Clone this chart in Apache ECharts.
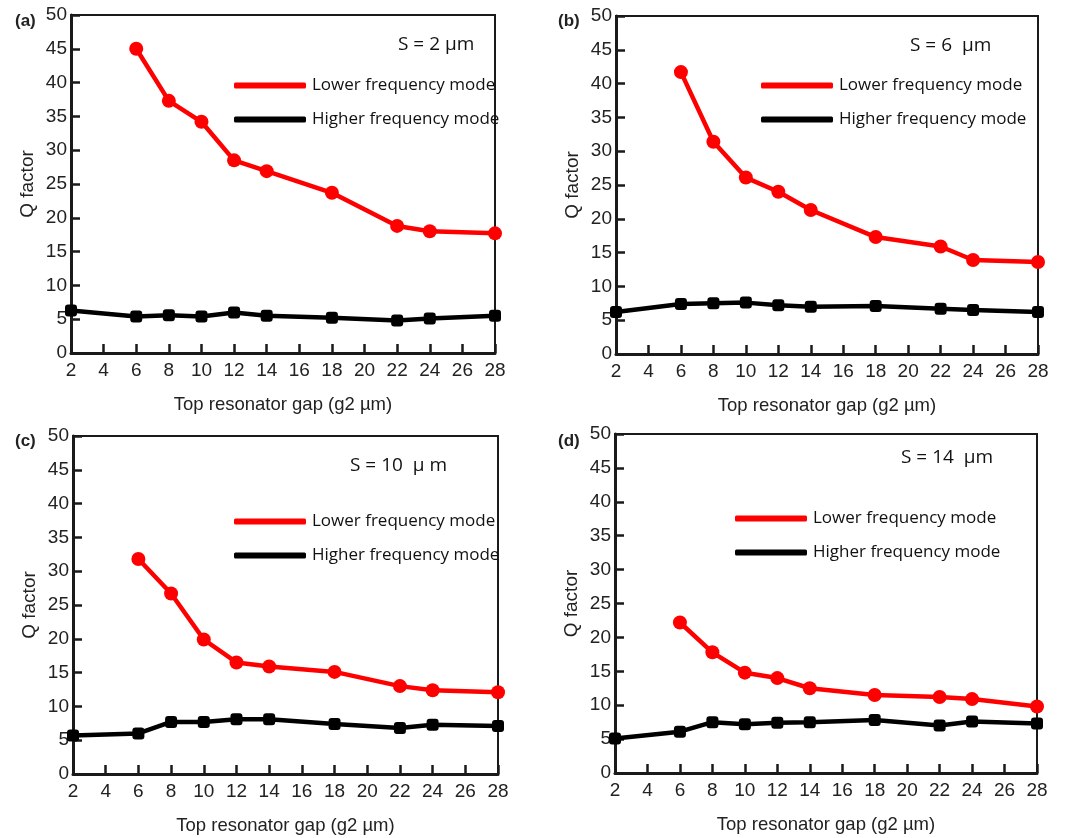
<!DOCTYPE html>
<html>
<head>
<meta charset="utf-8">
<script src="https://cdn.jsdelivr.net/npm/echarts@6/dist/echarts.min.js"></script>
<style>
html,body{margin:0;padding:0;background:#fff;}
#chart{width:1083px;height:838px;}
</style>
</head>
<body>
<div id="chart"></div>
<script>
// ---- data ----
const gapHigher = [2, 6, 8, 10, 12, 14, 18, 22, 24, 28];
const gapLower = [6, 8, 10, 12, 14, 18, 22, 24, 28];
const xTicks = [2, 4, 6, 8, 10, 12, 14, 16, 18, 20, 22, 24, 26, 28];
const yTicks = [0, 5, 10, 15, 20, 25, 30, 35, 40, 45, 50];

const panelLabels = ['(a)', '(b)', '(c)', '(d)'];
const spacingLabels = ['S = 2 µm', 'S = 6  µm', 'S = 10  µ m', 'S = 14  µm'];
const seriesNames = ['Lower frequency mode', 'Higher frequency mode'];

const lowerA = [45.0, 37.3, 34.2, 28.5, 26.9, 23.7, 18.8, 18.0, 17.7];
const higherA = [6.3, 5.4, 5.6, 5.4, 6.0, 5.5, 5.2, 4.8, 5.1, 5.5];
const lowerB = [41.7, 31.4, 26.1, 24.0, 21.3, 17.3, 15.9, 13.9, 13.6];
const higherB = [6.2, 7.4, 7.5, 7.6, 7.2, 7.0, 7.1, 6.7, 6.5, 6.2];
const lowerC = [31.8, 26.7, 19.9, 16.5, 15.9, 15.1, 13.0, 12.4, 12.1];
const higherC = [5.7, 6.0, 7.7, 7.7, 8.1, 8.1, 7.4, 6.8, 7.3, 7.1];
const lowerD = [22.2, 17.8, 14.8, 14.0, 12.5, 11.5, 11.2, 10.9, 9.8];
const higherD = [5.1, 6.1, 7.5, 7.2, 7.4, 7.5, 7.8, 7.0, 7.6, 7.3];

const lowerAll = [lowerA, lowerB, lowerC, lowerD];
const higherAll = [higherA, higherB, higherC, higherD];

// ---- layout ----
const grids = [
  {left: 71, top: 15, width: 424, height: 338},
  {left: 616, top: 16, width: 422, height: 338},
  {left: 73, top: 436, width: 425, height: 338},
  {left: 615, top: 434, width: 422, height: 339}
];
const panelLabelPos = [[10, 8], [553, 8], [10, 428], [553, 428]];
const sLabelPos = [[393, 30], [905, 31], [345, 451], [896, 443]];
const legendPos = [[229, 70], [756, 70], [229, 506], [730, 503]];

const RED = '#ff0000';
const BLACK = '#000000';
const tickFont = 'Liberation Sans';

const option = {
  backgroundColor: '#fff',
  animation: false,
  title: [],
  legend: [],
  grid: [],
  xAxis: [],
  yAxis: [],
  series: []
};

for (let i = 0; i < 4; i++) {
  const g = grids[i];
  option.grid.push({
    left: g.left, top: g.top, width: g.width, height: g.height,
    show: true, borderColor: '#1a1a1a', borderWidth: 2, backgroundColor: 'transparent'
  });
  option.xAxis.push({
    type: 'value', gridIndex: i, min: xTicks[0], max: xTicks[xTicks.length - 1], interval: 2,
    name: 'Top resonator gap (g2 µm)', nameLocation: 'middle', nameGap: 42,
    nameTextStyle: {fontFamily: tickFont, fontSize: 18.5, color: '#222'},
    axisLine: {show: true, onZero: false, lineStyle: {color: '#1a1a1a', width: 3}},
    axisTick: {show: true, inside: true, length: 9, lineStyle: {color: '#1a1a1a', width: 2.5}},
    axisLabel: {fontFamily: tickFont, fontSize: 19, color: '#222', margin: 8,
      formatter: v => (xTicks.indexOf(v) >= 0 ? String(v) : '')},
    splitLine: {show: false}
  });
  option.yAxis.push({
    type: 'value', gridIndex: i, min: yTicks[0], max: yTicks[yTicks.length - 1], interval: 5,
    name: 'Q factor', nameLocation: 'middle', nameGap: 34, nameRotate: 90,
    nameTextStyle: {fontFamily: tickFont, fontSize: 19, color: '#222'},
    axisLine: {show: true, onZero: false, lineStyle: {color: '#1a1a1a', width: 3}},
    axisTick: {show: true, inside: true, length: 9, lineStyle: {color: '#1a1a1a', width: 2.5}},
    axisLabel: {fontFamily: tickFont, fontSize: 19, color: '#222', margin: 4,
      formatter: v => (yTicks.indexOf(v) >= 0 ? String(v) : '')},
    splitLine: {show: false}
  });
  option.series.push({
    name: seriesNames[0], type: 'line', xAxisIndex: i, yAxisIndex: i,
    data: gapLower.map((x, k) => [x, lowerAll[i][k]]),
    symbol: 'circle', symbolSize: 14,
    lineStyle: {color: RED, width: 4.5}, itemStyle: {color: RED},
    z: 3
  });
  option.series.push({
    name: seriesNames[1], type: 'line', xAxisIndex: i, yAxisIndex: i,
    data: gapHigher.map((x, k) => [x, higherAll[i][k]]),
    symbol: 'roundRect', symbolSize: 12,
    lineStyle: {color: BLACK, width: 4.5}, itemStyle: {color: BLACK},
    z: 4
  });
  option.title.push({
    text: panelLabels[i], left: panelLabelPos[i][0], top: panelLabelPos[i][1],
    textStyle: {fontFamily: tickFont, fontSize: 17, fontWeight: 'bold', color: '#222'}
  });
  option.title.push({
    text: spacingLabels[i], left: sLabelPos[i][0], top: sLabelPos[i][1],
    textStyle: {fontFamily: 'Open Sans', fontSize: 19, fontWeight: 'normal', color: '#111'}
  });
  option.legend.push({
    data: seriesNames, orient: 'vertical', left: legendPos[i][0], top: legendPos[i][1],
    icon: 'roundRect', itemWidth: 72, itemHeight: 6, itemGap: 13,
    selectedMode: false,
    textStyle: {fontFamily: 'Open Sans', fontSize: 17, color: '#111', lineHeight: 21, padding: [0, 0, 0, 1]}
  });
}

const chart = echarts.init(document.getElementById('chart'), null, {renderer: 'canvas'});
chart.setOption(option);
</script>
</body>
</html>
